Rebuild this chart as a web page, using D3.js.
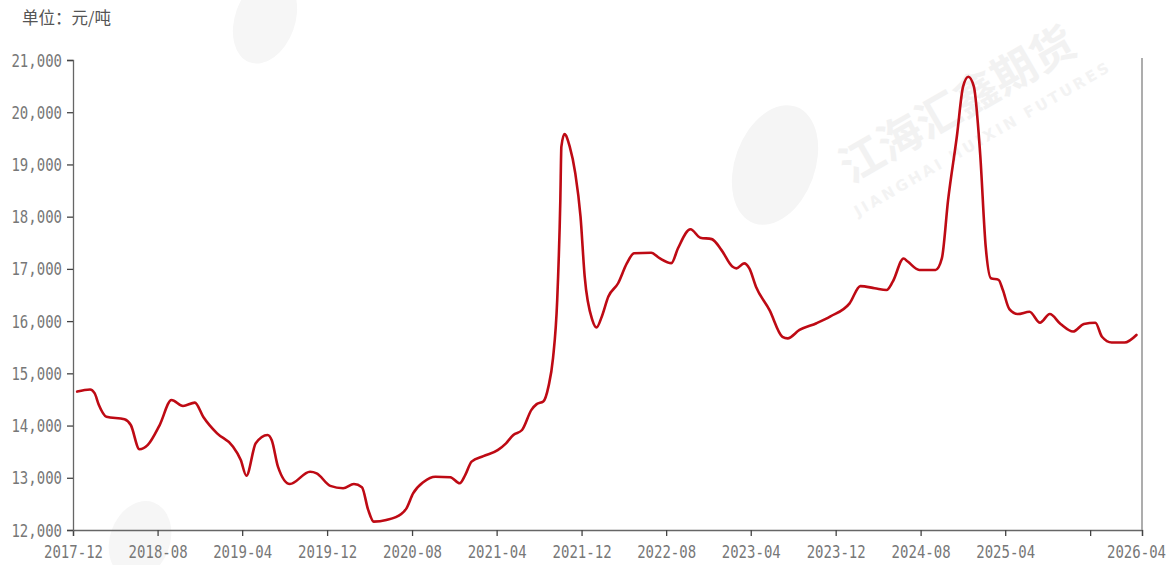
<!DOCTYPE html>
<html>
<head>
<meta charset="utf-8">
<script src="https://cdn.jsdelivr.net/npm/d3@7"></script>
<style>
  html, body { margin: 0; padding: 0; background: #fff; }
  svg { display: block; }
</style>
</head>
<body>
<svg id="chart" width="1168" height="565"></svg>
<script>
// ---- Data ----
const dates = [
  "2017-12-13","2018-01-19","2018-02-01","2018-02-13","2018-03-07","2018-04-28","2018-05-16","2018-06-10",
  "2018-07-04","2018-08-07","2018-09-10","2018-10-13","2018-11-16","2018-12-10","2019-01-19","2019-03-04",
  "2019-03-28","2019-04-13","2019-05-10","2019-06-13","2019-06-25","2019-07-13","2019-08-16","2019-10-13",
  "2019-11-01","2019-12-10","2020-01-16","2020-02-16","2020-03-10","2020-03-28","2020-04-13","2020-05-19",
  "2020-07-01","2020-07-16","2020-08-04","2020-09-04","2020-10-07","2020-11-19","2020-12-16","2021-01-01",
  "2021-01-19","2021-02-22","2021-04-04","2021-04-28","2021-05-19","2021-06-13","2021-07-10","2021-07-25",
  "2021-08-13","2021-08-28","2021-09-10","2021-09-22","2021-10-01","2021-10-04","2021-10-13","2021-10-28",
  "2021-11-13","2021-11-28","2021-12-10","2022-01-01","2022-01-13","2022-01-28","2022-02-16","2022-03-16",
  "2022-04-10","2022-05-01","2022-06-19","2022-07-13","2022-08-16","2022-09-04","2022-10-10","2022-11-07",
  "2022-12-10","2023-01-07","2023-02-07","2023-02-19","2023-03-13","2023-03-28","2023-04-16","2023-05-25",
  "2023-07-01","2023-07-16","2023-08-19","2023-10-07","2023-11-16","2024-01-10","2024-02-10","2024-03-22",
  "2024-04-25","2024-05-13","2024-06-13","2024-06-25","2024-07-28","2024-09-13","2024-10-01","2024-10-19",
  "2024-11-13","2024-12-01","2024-12-16","2025-01-01","2025-01-19","2025-02-04","2025-02-19","2025-03-13",
  "2025-03-25","2025-04-13","2025-05-07","2025-06-10","2025-07-10","2025-08-07","2025-09-07","2025-10-13",
  "2025-11-13","2025-12-16","2026-01-04","2026-02-01","2026-03-10","2026-04-13"
];
const prices = [
  14650,14690,14620,14400,14170,14120,14010,13545,
  13630,14010,14490,14375,14440,14170,13850,13610,
  13340,13040,13660,13820,13720,13210,12880,13115,
  13085,12845,12800,12880,12820,12385,12160,12190,
  12305,12415,12700,12925,13020,13010,12895,13055,
  13310,13415,13530,13660,13820,13915,14300,14410,
  14460,14750,15290,16400,18320,19340,19580,19340,
  18830,18000,16850,16020,15880,16085,16470,16725,
  17105,17300,17310,17205,17110,17395,17758,17598,
  17570,17360,17045,17010,17105,17010,16660,16210,
  15700,15670,15830,15960,16090,16340,16670,16630,
  16595,16755,17200,17140,16980,16980,17200,18320,
  19530,20490,20680,20490,19210,17425,16820,16790,
  16600,16230,16135,16180,15970,16135,15945,15800,
  15945,15970,15700,15590,15590,15735
];
const xTickDates = ["2017-12-01","2018-08-01","2019-04-01","2019-12-01","2020-08-01","2021-04-01",
                    "2021-12-01","2022-08-01","2023-04-01","2023-12-01","2024-08-01","2025-04-01","2025-12-01"];
const xHiddenLabels = ["2025-12"];
const xEndLabel = "2026-04";
const yTicks = [12000,13000,14000,15000,16000,17000,18000,19000,20000,21000];
const unitLabel = "单位：元/吨";

// ---- Setup ----
const parse = d3.timeParse("%Y-%m-%d");
const fmtMonth = d3.timeFormat("%Y-%m");
const data = dates.map((d, i) => ({ date: parse(d), value: prices[i] }));

const svg = d3.select("#chart");
const plotL = 73, plotR = 1142, plotT = 60, plotB = 530;

const domainStart = parse("2017-12-01");
const domainEnd = parse("2026-04-29");

const x = d3.scaleTime().domain([domainStart, domainEnd]).range([plotL, plotR]);
const y = d3.scaleLinear().domain([12000, 21000]).range([plotB, plotT]);

// ---- Watermark (faint) ----
const wm = svg.append("g").attr("class", "watermark").style("pointer-events", "none");
wm.append("ellipse").attr("cx", 775).attr("cy", 165).attr("rx", 40).attr("ry", 62)
  .attr("transform", "rotate(20,775,165)").attr("fill", "#f5f5f5");
wm.append("ellipse").attr("cx", 265).attr("cy", 20).attr("rx", 30).attr("ry", 45)
  .attr("transform", "rotate(20,265,20)").attr("fill", "#f6f6f6");
wm.append("ellipse").attr("cx", 140).attr("cy", 540).attr("rx", 30).attr("ry", 40)
  .attr("transform", "rotate(20,140,540)").attr("fill", "#f6f6f6");
const wg = wm.append("g").attr("transform", "translate(965,118) rotate(-30)");
wg.append("text").attr("x", 0).attr("y", 0).attr("text-anchor", "middle")
  .attr("font-family", "Noto Sans CJK SC").attr("font-weight", "bold").attr("font-size", 44)
  .attr("fill", "#f2f2f2").text("江海汇鑫期货");
wg.append("text").attr("x", 5).attr("y", 32).attr("text-anchor", "middle")
  .attr("font-family", "DejaVu Sans").attr("font-weight", "bold").attr("font-size", 15)
  .attr("letter-spacing", 3)
  .attr("fill", "#f3f3f3").text("JIANGHAI HUIXIN FUTURES");

// ---- Unit label ----
svg.append("text")
  .attr("x", 22).attr("y", 24)
  .attr("font-family", "Noto Sans CJK SC")
  .attr("font-size", 16.5)
  .attr("fill", "#555")
  .text(unitLabel);

// ---- Axes ----
const labelFont = "DejaVu Sans Mono";
const labelColor = "#777";
const axisColor = "#666";
const vStretch = 1.22;

const tickDates = xTickDates.map(parse).concat([domainEnd]);
const xAxis = d3.axisBottom(x)
  .tickValues(tickDates)
  .tickSize(6)
  .tickPadding(8)
  .tickFormat((d, i) => {
    if (i === tickDates.length - 1) return xEndLabel;
    const s = fmtMonth(d);
    return xHiddenLabels.includes(s) ? "" : s;
  });

const gx = svg.append("g").attr("transform", `translate(0,${plotB})`).call(xAxis);
gx.select(".domain").attr("stroke", axisColor).attr("stroke-width", 1.3);
gx.selectAll(".tick line").attr("stroke", "#444").attr("stroke-width", 1.3);
gx.selectAll(".tick text")
  .attr("font-family", labelFont).attr("font-size", 14).attr("fill", labelColor)
  .attr("y", 28 / vStretch).attr("dy", 0)
  .attr("transform", `scale(1,${vStretch})`)
  .each(function(d, i) {
    if (i === tickDates.length - 1) d3.select(this).attr("x", -6);
  });

const yAxis = d3.axisLeft(y)
  .tickValues(yTicks)
  .tickSize(6)
  .tickPadding(5)
  .tickFormat(d3.format(","));
const gy = svg.append("g").attr("transform", `translate(${plotL},0)`).call(yAxis);
gy.select(".domain").attr("stroke", axisColor).attr("stroke-width", 1.3);
gy.selectAll(".tick line").attr("stroke", "#444").attr("stroke-width", 1.3);
gy.selectAll(".tick text")
  .attr("font-family", labelFont).attr("font-size", 14).attr("fill", labelColor)
  .attr("dy", 0).attr("y", 6 / vStretch)
  .attr("transform", `scale(1,${vStretch})`);

// Right border line
svg.append("line")
  .attr("x1", plotR).attr("x2", plotR)
  .attr("y1", plotT - 2).attr("y2", plotB)
  .attr("stroke", "#999").attr("stroke-width", 1.6);

// ---- Line ----
const line = d3.line()
  .x(d => x(d.date))
  .y(d => y(d.value))
  .curve(d3.curveMonotoneX);

svg.append("path")
  .datum(data)
  .attr("fill", "none")
  .attr("stroke", "#BE0A14")
  .attr("stroke-width", 2.6)
  .attr("stroke-linejoin", "round")
  .attr("stroke-linecap", "round")
  .attr("d", line);
</script>
</body>
</html>
